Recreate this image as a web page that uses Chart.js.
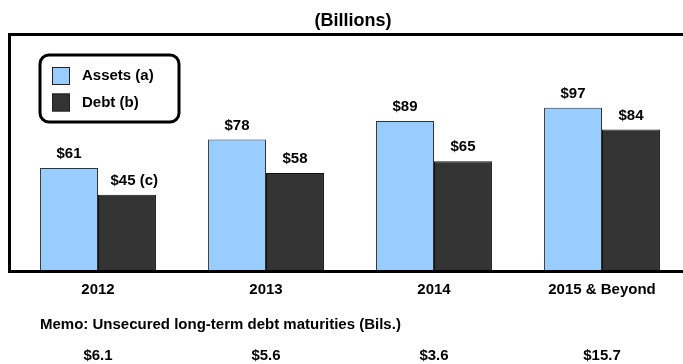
<!DOCTYPE html>
<html>
<head>
<meta charset="utf-8">
<script src="https://cdn.jsdelivr.net/npm/chart.js@4/dist/chart.umd.min.js"></script>
<style>
  html, body { margin: 0; padding: 0; background: #fff; overflow: hidden; }
  #wrap { width: 683px; height: 364px; overflow: hidden; position: relative; }
  canvas { display: block; }
</style>
</head>
<body>
<div id="wrap"><canvas id="graph" width="700" height="364"></canvas></div>
<script>
'use strict';

// 年ごとの満期データ（単位：十億ドル）
const categories = ['2012', '2013', '2014', '2015 & Beyond'];
const assetValues = [61, 78, 89, 97];
const debtValues = [45, 58, 65, 84];
const debtNotes = ['(c)', '', '', '']; // ラベルの注記
const memoValues = [6.1, 5.6, 3.6, 15.7];

const titleText = '(Billions)';
const memoText = 'Memo: Unsecured long-term debt maturities (Bils.)';
const FAMILY = '"Liberation Sans", Arial, sans-serif';
const FONT = 'bold 15px ' + FAMILY;

// 枠・タイトル・凡例・メモを描くプラグイン
const decorPlugin = {
  id: 'decor',
  afterDatasetsDraw(chart) {
    const ctx = chart.ctx;
    const area = chart.chartArea;
    const xScale = chart.scales.x;
    ctx.save();
    ctx.font = FONT;
    ctx.fillStyle = '#000';

    // 棒の上の金額ラベル
    chart.data.datasets.forEach(function(ds, di) {
      const meta = chart.getDatasetMeta(di);
      meta.data.forEach(function(bar, i) {
        const main = '$' + ds.data[i];
        const note = di === 1 ? debtNotes[i] : '';
        ctx.textBaseline = 'middle';
        if (note) {
          const w = ctx.measureText(main).width;
          ctx.textAlign = 'left';
          ctx.fillText(main + ' ' + note, bar.x - w / 2 - 4, bar.y - 14);
        } else {
          ctx.textAlign = 'center';
          ctx.fillText(main, bar.x, bar.y - 14);
        }
      });
    });

    // 外枠（右側は画面外へ）
    ctx.lineWidth = 3;
    ctx.strokeStyle = '#000';
    ctx.beginPath();
    ctx.moveTo(chart.width + 10, area.top + 0.5);
    ctx.lineTo(area.left - 4.5, area.top + 0.5);
    ctx.lineTo(area.left - 4.5, area.bottom + 1.5);
    ctx.lineTo(chart.width + 10, area.bottom + 1.5);
    ctx.stroke();

    // タイトル
    ctx.font = 'bold 18px ' + FAMILY;
    ctx.textAlign = 'center';
    ctx.textBaseline = 'middle';
    ctx.fillText(titleText, 353, 21);
    ctx.font = FONT;

    // 凡例（角丸の枠）
    const lx = 40, ly = 55, lw = 139, lh = 67;
    ctx.lineWidth = 3;
    ctx.beginPath();
    ctx.roundRect(lx, ly, lw, lh, 9);
    ctx.fillStyle = '#fff';
    ctx.fill();
    ctx.stroke();
    chart.data.datasets.forEach(function(ds, di) {
      const sy = ly + 12 + di * 26.5;
      ctx.fillStyle = ds.backgroundColor;
      ctx.fillRect(lx + 12, sy, 18, 18);
      ctx.lineWidth = 1;
      ctx.strokeStyle = '#222';
      ctx.strokeRect(lx + 12.5, sy + 0.5, 17, 17);
      ctx.fillStyle = '#000';
      ctx.textAlign = 'left';
      ctx.textBaseline = 'middle';
      ctx.fillText(ds.label, lx + 42, sy + 9);
    });

    // メモ行
    ctx.textAlign = 'left';
    ctx.fillText(memoText, 40, 325);
    ctx.textAlign = 'center';
    memoValues.forEach(function(v, i) {
      ctx.fillText('$' + v.toFixed(1), xScale.getPixelForValue(i), 356);
    });
    ctx.restore();
  }
};

const context = document.querySelector('#graph').getContext('2d');
const chart = new Chart(context, {
  type: 'bar',
  data: {
    labels: categories,
    datasets: [{
      label: 'Assets (a)',
      data: assetValues,
      backgroundColor: '#99ccff',
      borderColor: '#333',
      borderWidth: 1
    }, {
      label: 'Debt (b)',
      data: debtValues,
      backgroundColor: '#333333',
      borderColor: '#111',
      borderWidth: 1
    }]
  },
  options: {
    responsive: false,
    animation: false,
    devicePixelRatio: 1,
    layout: { padding: { left: 14, right: 14, top: 34, bottom: 54 } },
    datasets: { bar: { barPercentage: 1.0, categoryPercentage: 0.69 } },
    plugins: {
      legend: { display: false },
      title: { display: false },
      tooltip: { enabled: false }
    },
    scales: {
      x: {
        grid: { display: false, drawTicks: false, tickLength: 0 },
        border: { display: false },
        ticks: {
          color: '#000',
          padding: 11,
          maxRotation: 0,
          autoSkip: false,
          font: { family: FAMILY, size: 15, weight: 'bold' }
        }
      },
      y: {
        display: false,
        min: 0,
        max: 141
      }
    }
  },
  plugins: [decorPlugin]
});
</script>
</body>
</html>
